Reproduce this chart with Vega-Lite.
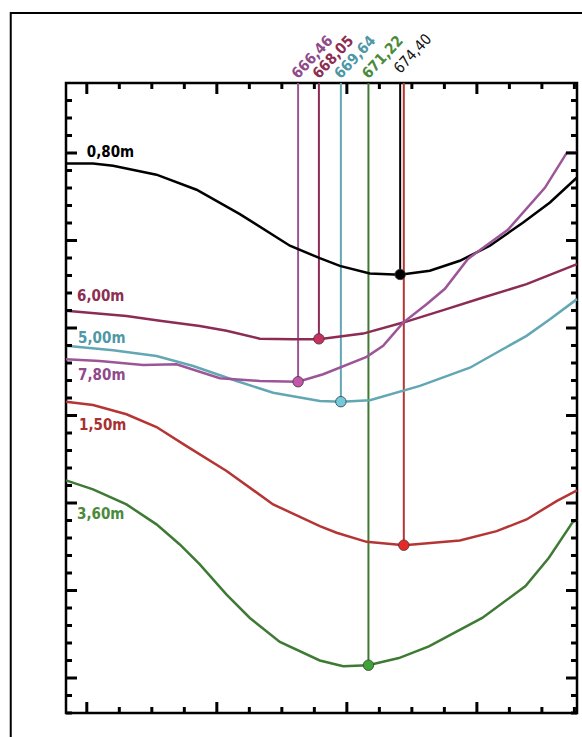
{
  "$schema": "https://vega.github.io/schema/vega-lite/v6.json",
  "width": 511,
  "height": 630,
  "autosize": {"type": "none"},
  "padding": {"left": 66, "top": 83, "right": 5, "bottom": 24},
  "background": "white",
  "config": {
    "view": {"stroke": "black", "strokeWidth": 2.5},
    "axis": {"grid": false, "domain": false, "labelFont": "DejaVu Sans", "labelFontSize": 13, "labelColor": "#333333", "labelFlush": false, "labelOverlap": false}
  },
  "datasets": {
    "curves": [
      {"s": "0,80m", "w": 648.4, "v": 0.00744},
      {"s": "0,80m", "w": 650.48, "v": 0.00744},
      {"s": "0,80m", "w": 652.02, "v": 0.007427},
      {"s": "0,80m", "w": 655.36, "v": 0.007376},
      {"s": "0,80m", "w": 658.44, "v": 0.00729},
      {"s": "0,80m", "w": 661.77, "v": 0.007151},
      {"s": "0,80m", "w": 665.62, "v": 0.00697},
      {"s": "0,80m", "w": 667.92, "v": 0.006899},
      {"s": "0,80m", "w": 669.46, "v": 0.006855},
      {"s": "0,80m", "w": 671.77, "v": 0.006811},
      {"s": "0,80m", "w": 674.08, "v": 0.006804},
      {"s": "0,80m", "w": 676.38, "v": 0.006827},
      {"s": "0,80m", "w": 678.69, "v": 0.006884},
      {"s": "0,80m", "w": 681.0, "v": 0.00697},
      {"s": "0,80m", "w": 683.56, "v": 0.007103},
      {"s": "0,80m", "w": 685.62, "v": 0.007217},
      {"s": "0,80m", "w": 687.7, "v": 0.00736},
      {"s": "6,00m", "w": 648.4, "v": 0.006598},
      {"s": "6,00m", "w": 653.05, "v": 0.006569},
      {"s": "6,00m", "w": 655.62, "v": 0.006541},
      {"s": "6,00m", "w": 658.69, "v": 0.006512},
      {"s": "6,00m", "w": 660.75, "v": 0.006484},
      {"s": "6,00m", "w": 663.31, "v": 0.006439},
      {"s": "6,00m", "w": 665.87, "v": 0.006436},
      {"s": "6,00m", "w": 667.85, "v": 0.006436},
      {"s": "6,00m", "w": 671.25, "v": 0.006468},
      {"s": "6,00m", "w": 674.33, "v": 0.006531},
      {"s": "6,00m", "w": 677.41, "v": 0.006602},
      {"s": "6,00m", "w": 680.48, "v": 0.006674},
      {"s": "6,00m", "w": 683.82, "v": 0.006751},
      {"s": "6,00m", "w": 687.7, "v": 0.006865},
      {"s": "5,00m", "w": 648.4, "v": 0.006398},
      {"s": "5,00m", "w": 652.02, "v": 0.006373},
      {"s": "5,00m", "w": 655.36, "v": 0.00634},
      {"s": "5,00m", "w": 658.18, "v": 0.006283},
      {"s": "5,00m", "w": 661.52, "v": 0.006197},
      {"s": "5,00m", "w": 664.33, "v": 0.00613},
      {"s": "5,00m", "w": 667.92, "v": 0.006083},
      {"s": "5,00m", "w": 669.59, "v": 0.006079},
      {"s": "5,00m", "w": 671.77, "v": 0.006087},
      {"s": "5,00m", "w": 675.62, "v": 0.006169},
      {"s": "5,00m", "w": 679.46, "v": 0.006273},
      {"s": "5,00m", "w": 683.82, "v": 0.006455},
      {"s": "5,00m", "w": 685.62, "v": 0.00655},
      {"s": "5,00m", "w": 687.7, "v": 0.006665},
      {"s": "7,80m", "w": 648.4, "v": 0.006322},
      {"s": "7,80m", "w": 651.0, "v": 0.006312},
      {"s": "7,80m", "w": 654.33, "v": 0.006289},
      {"s": "7,80m", "w": 656.9, "v": 0.006293},
      {"s": "7,80m", "w": 660.23, "v": 0.006213},
      {"s": "7,80m", "w": 663.31, "v": 0.006197},
      {"s": "7,80m", "w": 666.25, "v": 0.006193},
      {"s": "7,80m", "w": 668.18, "v": 0.006236},
      {"s": "7,80m", "w": 671.52, "v": 0.006335},
      {"s": "7,80m", "w": 672.79, "v": 0.006398},
      {"s": "7,80m", "w": 674.33, "v": 0.006531},
      {"s": "7,80m", "w": 676.13, "v": 0.006636},
      {"s": "7,80m", "w": 677.54, "v": 0.006724},
      {"s": "7,80m", "w": 679.31, "v": 0.006895},
      {"s": "7,80m", "w": 682.38, "v": 0.007061},
      {"s": "7,80m", "w": 685.23, "v": 0.007301},
      {"s": "7,80m", "w": 686.92, "v": 0.007502},
      {"s": "7,80m", "w": 687.7, "v": 0.007502},
      {"s": "1,50m", "w": 648.4, "v": 0.006079},
      {"s": "1,50m", "w": 650.48, "v": 0.00606},
      {"s": "1,50m", "w": 653.05, "v": 0.006007},
      {"s": "1,50m", "w": 655.36, "v": 0.005934},
      {"s": "1,50m", "w": 657.67, "v": 0.005825},
      {"s": "1,50m", "w": 660.75, "v": 0.005683},
      {"s": "1,50m", "w": 664.33, "v": 0.005492},
      {"s": "1,50m", "w": 667.92, "v": 0.005368},
      {"s": "1,50m", "w": 669.21, "v": 0.00533},
      {"s": "1,50m", "w": 671.52, "v": 0.005278},
      {"s": "1,50m", "w": 674.41, "v": 0.005259},
      {"s": "1,50m", "w": 678.69, "v": 0.005286},
      {"s": "1,50m", "w": 681.52, "v": 0.005339},
      {"s": "1,50m", "w": 683.82, "v": 0.005406},
      {"s": "1,50m", "w": 686.13, "v": 0.005511},
      {"s": "1,50m", "w": 687.7, "v": 0.005572},
      {"s": "3,60m", "w": 648.4, "v": 0.005629},
      {"s": "3,60m", "w": 650.48, "v": 0.005578},
      {"s": "3,60m", "w": 653.05, "v": 0.005492},
      {"s": "3,60m", "w": 655.36, "v": 0.005378},
      {"s": "3,60m", "w": 657.15, "v": 0.005263},
      {"s": "3,60m", "w": 658.69, "v": 0.005149},
      {"s": "3,60m", "w": 660.75, "v": 0.004977},
      {"s": "3,60m", "w": 662.54, "v": 0.004843},
      {"s": "3,60m", "w": 664.85, "v": 0.004706},
      {"s": "3,60m", "w": 667.92, "v": 0.0046},
      {"s": "3,60m", "w": 669.72, "v": 0.004567},
      {"s": "3,60m", "w": 671.64, "v": 0.004573},
      {"s": "3,60m", "w": 674.0, "v": 0.004614},
      {"s": "3,60m", "w": 676.31, "v": 0.004681},
      {"s": "3,60m", "w": 680.41, "v": 0.004843},
      {"s": "3,60m", "w": 683.74, "v": 0.005025},
      {"s": "3,60m", "w": 685.54, "v": 0.005187},
      {"s": "3,60m", "w": 687.33, "v": 0.005387},
      {"s": "3,60m", "w": 687.7, "v": 0.005406}
    ],
    "mins": [
      {"s": "7,80m", "w": 666.25, "v": 0.006193, "label": "666,46"},
      {"s": "6,00m", "w": 667.85, "v": 0.006438, "label": "668,05"},
      {"s": "5,00m", "w": 669.54, "v": 0.006079, "label": "669,64"},
      {"s": "3,60m", "w": 671.66, "v": 0.004573, "label": "671,22"},
      {"s": "0,80m", "w": 674.1, "v": 0.006806, "label": "674,40"},
      {"s": "1,50m", "w": 674.38, "v": 0.005259, "label": ""}
    ],
    "names": [
      {"s": "0,80m", "w": 650.0, "v": 0.007479},
      {"s": "6,00m", "w": 649.25, "v": 0.006655},
      {"s": "5,00m", "w": 649.33, "v": 0.006417},
      {"s": "7,80m", "w": 649.33, "v": 0.006201},
      {"s": "1,50m", "w": 649.4, "v": 0.005915},
      {"s": "3,60m", "w": 649.25, "v": 0.005406}
    ],
    "xmajor": [{"t": 650}, {"t": 660}, {"t": 670}, {"t": 680}],
    "xminor": [{"t": 652.5}, {"t": 655}, {"t": 657.5}, {"t": 662.5}, {"t": 665}, {"t": 667.5}, {"t": 672.5}, {"t": 675}, {"t": 677.5}, {"t": 682.5}, {"t": 685}, {"t": 687.5}],
    "ymajor": [{"t": 0.0045}, {"t": 0.005}, {"t": 0.0055}, {"t": 0.006}, {"t": 0.0065}, {"t": 0.007}, {"t": 0.0075}],
    "yminor": [{"t": 0.0043}, {"t": 0.0044}, {"t": 0.0046}, {"t": 0.0047}, {"t": 0.0048}, {"t": 0.0049}, {"t": 0.0051}, {"t": 0.0052}, {"t": 0.0053}, {"t": 0.0054}, {"t": 0.0056}, {"t": 0.0057}, {"t": 0.0058}, {"t": 0.0059}, {"t": 0.0061}, {"t": 0.0062}, {"t": 0.0063}, {"t": 0.0064}, {"t": 0.0066}, {"t": 0.0067}, {"t": 0.0068}, {"t": 0.0069}, {"t": 0.0071}, {"t": 0.0072}, {"t": 0.0073}, {"t": 0.0074}, {"t": 0.0076}, {"t": 0.0077}, {"t": 0.0078}]
  },
  "layer": [
    {
      "data": {"name": "mins"},
      "mark": {"type": "rule", "strokeWidth": 2},
      "encoding": {
        "x": {"field": "w", "type": "quantitative", "scale": {"domain": [648.4, 687.7], "nice": false, "zero": false},
          "axis": {"orient": "bottom", "values": [650, 660, 670, 680], "format": "d", "ticks": false, "labelPadding": 3, "title": "Wavelength", "titleFont": "DejaVu Sans", "titleFontSize": 12, "titleFontWeight": "normal", "titleColor": "#222222", "titlePadding": 0}},
        "y": {"field": "v", "type": "quantitative", "scale": {"domain": [0.0043, 0.0079], "nice": false, "zero": false},
          "axis": {"orient": "left", "values": [0.0045, 0.005, 0.0055, 0.006, 0.0065, 0.007, 0.0075], "format": ".4f", "ticks": false, "labelPadding": 4, "title": null}},
        "y2": {"datum": 0.0079},
        "stroke": {"field": "s", "type": "nominal", "legend": null,
          "scale": {"domain": ["0,80m", "6,00m", "5,00m", "7,80m", "1,50m", "3,60m"], "range": ["#000000", "#8C2C55", "#62A7B3", "#9C5598", "#B53535", "#3E7A34"]}}
      }
    },
    {
      "data": {"name": "curves"},
      "mark": {"type": "line", "strokeWidth": 2.5},
      "encoding": {
        "x": {"field": "w", "type": "quantitative", "axis": null},
        "y": {"field": "v", "type": "quantitative", "axis": null},
        "stroke": {"field": "s", "type": "nominal", "legend": null},
        "order": {"field": "w", "type": "quantitative"}
      }
    },
    {
      "data": {"name": "mins"},
      "mark": {"type": "circle", "size": 110, "stroke": "#3a3a3a", "strokeWidth": 0.8, "opacity": 1},
      "encoding": {
        "x": {"field": "w", "type": "quantitative", "axis": null},
        "y": {"field": "v", "type": "quantitative", "axis": null},
        "fill": {"field": "s", "type": "nominal", "legend": null,
          "scale": {"domain": ["0,80m", "6,00m", "5,00m", "7,80m", "1,50m", "3,60m"], "range": ["#000000", "#C8305E", "#72CADB", "#C355AA", "#E82828", "#3EA535"]}}
      }
    },
    {
      "data": {"name": "names"},
      "mark": {"type": "text", "align": "left", "baseline": "alphabetic", "font": "DejaVu Sans Condensed, DejaVu Sans", "fontSize": 15, "fontWeight": "bold"},
      "encoding": {
        "x": {"field": "w", "type": "quantitative", "axis": null},
        "y": {"field": "v", "type": "quantitative", "axis": null},
        "text": {"field": "s"},
        "color": {"field": "s", "type": "nominal", "legend": null,
          "scale": {"domain": ["0,80m", "6,00m", "5,00m", "7,80m", "1,50m", "3,60m"], "range": ["#000000", "#8B2E52", "#4E98A5", "#8E4A8A", "#A83030", "#4A8A3A"]}}
      }
    },
    {
      "data": {"name": "mins"},
      "transform": [{"filter": "datum.label != '' && datum.s != '0,80m'"}],
      "mark": {"type": "text", "align": "left", "baseline": "alphabetic", "angle": 313, "font": "DejaVu Sans Condensed, DejaVu Sans", "fontSize": 15, "fontWeight": "bold"},
      "encoding": {
        "x": {"field": "w", "type": "quantitative", "axis": null},
        "y": {"datum": 0.00792, "type": "quantitative", "axis": null},
        "text": {"field": "label"},
        "color": {"field": "s", "type": "nominal", "legend": null}
      }
    },
    {
      "data": {"name": "mins"},
      "transform": [{"filter": "datum.s == '0,80m'"}],
      "mark": {"type": "text", "align": "left", "baseline": "alphabetic", "angle": 313, "font": "DejaVu Sans Condensed, DejaVu Sans", "fontSize": 15, "color": "#111111"},
      "encoding": {
        "x": {"field": "w", "type": "quantitative", "axis": null},
        "y": {"datum": 0.00795, "type": "quantitative", "axis": null},
        "text": {"field": "label"}
      }
    },
    {
      "data": {"name": "xmajor"},
      "mark": {"type": "rule", "strokeWidth": 3, "color": "#000000"},
      "encoding": {
        "x": {"field": "t", "type": "quantitative", "axis": null},
        "y": {"datum": 0.0043, "type": "quantitative", "axis": null},
        "y2": {"datum": 0.0043629}
      }
    },
    {
      "data": {"name": "xmajor"},
      "mark": {"type": "rule", "strokeWidth": 3, "color": "#000000"},
      "encoding": {
        "x": {"field": "t", "type": "quantitative", "axis": null},
        "y": {"datum": 0.0079, "type": "quantitative", "axis": null},
        "y2": {"datum": 0.0078371}
      }
    },
    {
      "data": {"name": "xminor"},
      "mark": {"type": "rule", "strokeWidth": 3, "color": "#000000"},
      "encoding": {
        "x": {"field": "t", "type": "quantitative", "axis": null},
        "y": {"datum": 0.0043, "type": "quantitative", "axis": null},
        "y2": {"datum": 0.0043343}
      }
    },
    {
      "data": {"name": "xminor"},
      "mark": {"type": "rule", "strokeWidth": 3, "color": "#000000"},
      "encoding": {
        "x": {"field": "t", "type": "quantitative", "axis": null},
        "y": {"datum": 0.0079, "type": "quantitative", "axis": null},
        "y2": {"datum": 0.0078657}
      }
    },
    {
      "data": {"name": "ymajor"},
      "mark": {"type": "rule", "strokeWidth": 3, "color": "#000000"},
      "encoding": {
        "y": {"field": "t", "type": "quantitative", "axis": null},
        "x": {"datum": 648.4, "type": "quantitative", "axis": null},
        "x2": {"datum": 649.246}
      }
    },
    {
      "data": {"name": "ymajor"},
      "mark": {"type": "rule", "strokeWidth": 3, "color": "#000000"},
      "encoding": {
        "y": {"field": "t", "type": "quantitative", "axis": null},
        "x": {"datum": 687.7, "type": "quantitative", "axis": null},
        "x2": {"datum": 686.854}
      }
    },
    {
      "data": {"name": "yminor"},
      "mark": {"type": "rule", "strokeWidth": 3, "color": "#000000"},
      "encoding": {
        "y": {"field": "t", "type": "quantitative", "axis": null},
        "x": {"datum": 648.4, "type": "quantitative", "axis": null},
        "x2": {"datum": 648.862}
      }
    },
    {
      "data": {"name": "yminor"},
      "mark": {"type": "rule", "strokeWidth": 3, "color": "#000000"},
      "encoding": {
        "y": {"field": "t", "type": "quantitative", "axis": null},
        "x": {"datum": 687.7, "type": "quantitative", "axis": null},
        "x2": {"datum": 687.238}
      }
    },
    {
      "data": {"values": [{}]},
      "mark": {"type": "rect", "fillOpacity": 0, "stroke": "black", "strokeWidth": 2},
      "encoding": {
        "x": {"datum": 644.15, "type": "quantitative", "axis": null},
        "x2": {"datum": 692},
        "y": {"datum": 0.0083, "type": "quantitative", "axis": null},
        "y2": {"datum": 0.0039}
      }
    }
  ]
}
